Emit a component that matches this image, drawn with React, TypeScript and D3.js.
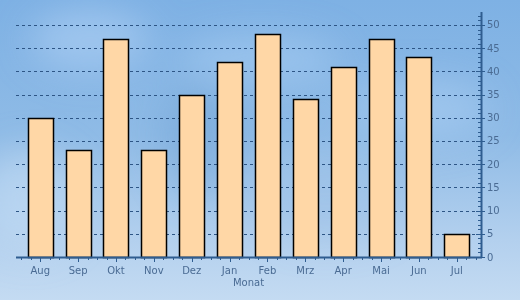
import React, { useEffect, useRef } from "react";
import * as d3 from "d3";

const months = ["Aug", "Sep", "Okt", "Nov", "Dez", "Jan", "Feb", "Mrz", "Apr", "Mai", "Jun", "Jul"];
const values = [30, 23, 47, 23, 35, 42, 48, 34, 41, 47, 43, 5];
const yTicks = [0, 5, 10, 15, 20, 25, 30, 35, 40, 45, 50];
const xTitle = "Monat";

const W = 520, H = 300;
const L = 16, R = 481, T = 12, B = 257;

export default function App() {
  const ref = useRef<SVGSVGElement>(null);
  useEffect(() => {
    const svg = d3.select(ref.current);
    svg.selectAll("*").remove();
    const defs = svg.append("defs");
    const lg = defs.append("linearGradient").attr("id", "bg").attr("x1", 0).attr("y1", 0).attr("x2", 0).attr("y2", 1);
    lg.append("stop").attr("offset", "0%").attr("stop-color", "#7eb1e4");
    lg.append("stop").attr("offset", "45%").attr("stop-color", "#8fbbe6");
    lg.append("stop").attr("offset", "80%").attr("stop-color", "#b3d0ee");
    lg.append("stop").attr("offset", "100%").attr("stop-color", "#c4dbf2");
    const blur = defs.append("filter").attr("id", "blur").attr("x", "-50%").attr("y", "-50%").attr("width", "200%").attr("height", "200%");
    blur.append("feGaussianBlur").attr("stdDeviation", 18);

    svg.append("rect").attr("width", W).attr("height", H).attr("fill", "url(#bg)");
    const clouds = [
      { cx: 90, cy: 40, rx: 60, ry: 30, c: "#a9cdf2", o: 0.7 },
      { cx: 260, cy: 60, rx: 80, ry: 25, c: "#a5cbf2", o: 0.6 },
      { cx: 420, cy: 110, rx: 70, ry: 30, c: "#a9cdf2", o: 0.6 },
      { cx: 200, cy: 140, rx: 40, ry: 60, c: "#6f9fd2", o: 0.4 },
      { cx: 30, cy: 200, rx: 50, ry: 50, c: "#c3dcf4", o: 0.6 },
      { cx: 330, cy: 200, rx: 70, ry: 40, c: "#9ec2e8", o: 0.5 },
    ];
    svg.append("g").attr("filter", "url(#blur)").selectAll("ellipse").data(clouds).enter().append("ellipse")
      .attr("cx", d => d.cx).attr("cy", d => d.cy).attr("rx", d => d.rx).attr("ry", d => d.ry)
      .attr("fill", d => d.c).attr("opacity", d => d.o);

    const x = d3.scaleBand<string>().domain(months).range([L, R]).paddingInner(0.34).paddingOuter(0.31);
    const y = d3.scaleLinear().domain([0, 52.8]).range([B, T]);

    const axisColor = "#2f5d90";
    const textColor = "#4a6b93";

    // grid
    svg.append("g").selectAll("line").data(yTicks.filter(t => t > 0)).enter().append("line")
      .attr("x1", L).attr("x2", R).attr("y1", d => Math.round(y(d)) + 0.5).attr("y2", d => Math.round(y(d)) + 0.5)
      .attr("stroke", "#2d5585").attr("stroke-width", 1).attr("stroke-dasharray", "3,3");

    // bars
    svg.append("g").selectAll("rect").data(values).enter().append("rect")
      .attr("x", (d, i) => Math.round(x(months[i])!) + 0.5)
      .attr("y", d => Math.round(y(d)) + 0.5)
      .attr("width", Math.round(x.bandwidth()))
      .attr("height", d => Math.round(y(0)) - Math.round(y(d)))
      .attr("fill", "#ffd7a6").attr("stroke", "#000").attr("stroke-width", 1.5);

    // x axis
    const gx = svg.append("g");
    gx.append("line").attr("x1", L).attr("x2", R + 1).attr("y1", B + 0.5).attr("y2", B + 0.5).attr("stroke", axisColor).attr("stroke-width", 2);
    const step = x.step();
    const minor: number[] = [];
    for (let i = 0; i < months.length; i++) {
      const c = x(months[i])! + x.bandwidth() / 2;
      for (const k of [-0.5, -0.25, 0.25]) minor.push(c + k * step);
    }
    minor.push(x(months[months.length - 1])! + x.bandwidth() / 2 + 0.5 * step);
    gx.selectAll("line.mn").data(minor).enter().append("line").attr("class", "mn")
      .attr("x1", d => Math.round(d) + 0.5).attr("x2", d => Math.round(d) + 0.5).attr("y1", B).attr("y2", B + 3)
      .attr("stroke", axisColor).attr("stroke-width", 1);
    gx.selectAll("line.mj").data(months).enter().append("line").attr("class", "mj")
      .attr("x1", d => Math.round(x(d)! + x.bandwidth() / 2) + 0.5).attr("x2", d => Math.round(x(d)! + x.bandwidth() / 2) + 0.5)
      .attr("y1", B).attr("y2", B + 5).attr("stroke", axisColor).attr("stroke-width", 1);
    gx.selectAll("text").data(months).enter().append("text")
      .attr("x", d => x(d)! + x.bandwidth() / 2).attr("y", 274)
      .attr("text-anchor", "middle").attr("font-family", "DejaVu Sans, Verdana, sans-serif").attr("font-size", 10)
      .attr("fill", textColor).text(d => d);
    svg.append("text").attr("x", (L + R) / 2).attr("y", 286).attr("text-anchor", "middle")
      .attr("font-family", "DejaVu Sans, Verdana, sans-serif").attr("font-size", 10).attr("fill", textColor).text(xTitle);

    // y axis
    const gy = svg.append("g");
    gy.append("line").attr("x1", R + 0.5).attr("x2", R + 0.5).attr("y1", T).attr("y2", B + 1).attr("stroke", axisColor).attr("stroke-width", 2);
    const ym = d3.range(0, 53, 1);
    gy.selectAll("line.mn").data(ym).enter().append("line").attr("class", "mn")
      .attr("x1", R - 3).attr("x2", R).attr("y1", d => Math.round(y(d)) + 0.5).attr("y2", d => Math.round(y(d)) + 0.5)
      .attr("stroke", axisColor).attr("stroke-width", 1);
    gy.selectAll("line.mj").data(yTicks).enter().append("line").attr("class", "mj")
      .attr("x1", R - 5).attr("x2", R + 4).attr("y1", d => Math.round(y(d)) + 0.5).attr("y2", d => Math.round(y(d)) + 0.5)
      .attr("stroke", axisColor).attr("stroke-width", 1);
    gy.selectAll("text").data(yTicks).enter().append("text")
      .attr("x", 487).attr("y", d => y(d) + 3.5)
      .attr("font-family", "DejaVu Sans, Verdana, sans-serif").attr("font-size", 10)
      .attr("fill", textColor).text(d => String(d));
  }, []);
  return (
    <svg ref={ref} width={W} height={H} style={{ position: "absolute", left: 0, top: 0, display: "block" }} />
  );
}
